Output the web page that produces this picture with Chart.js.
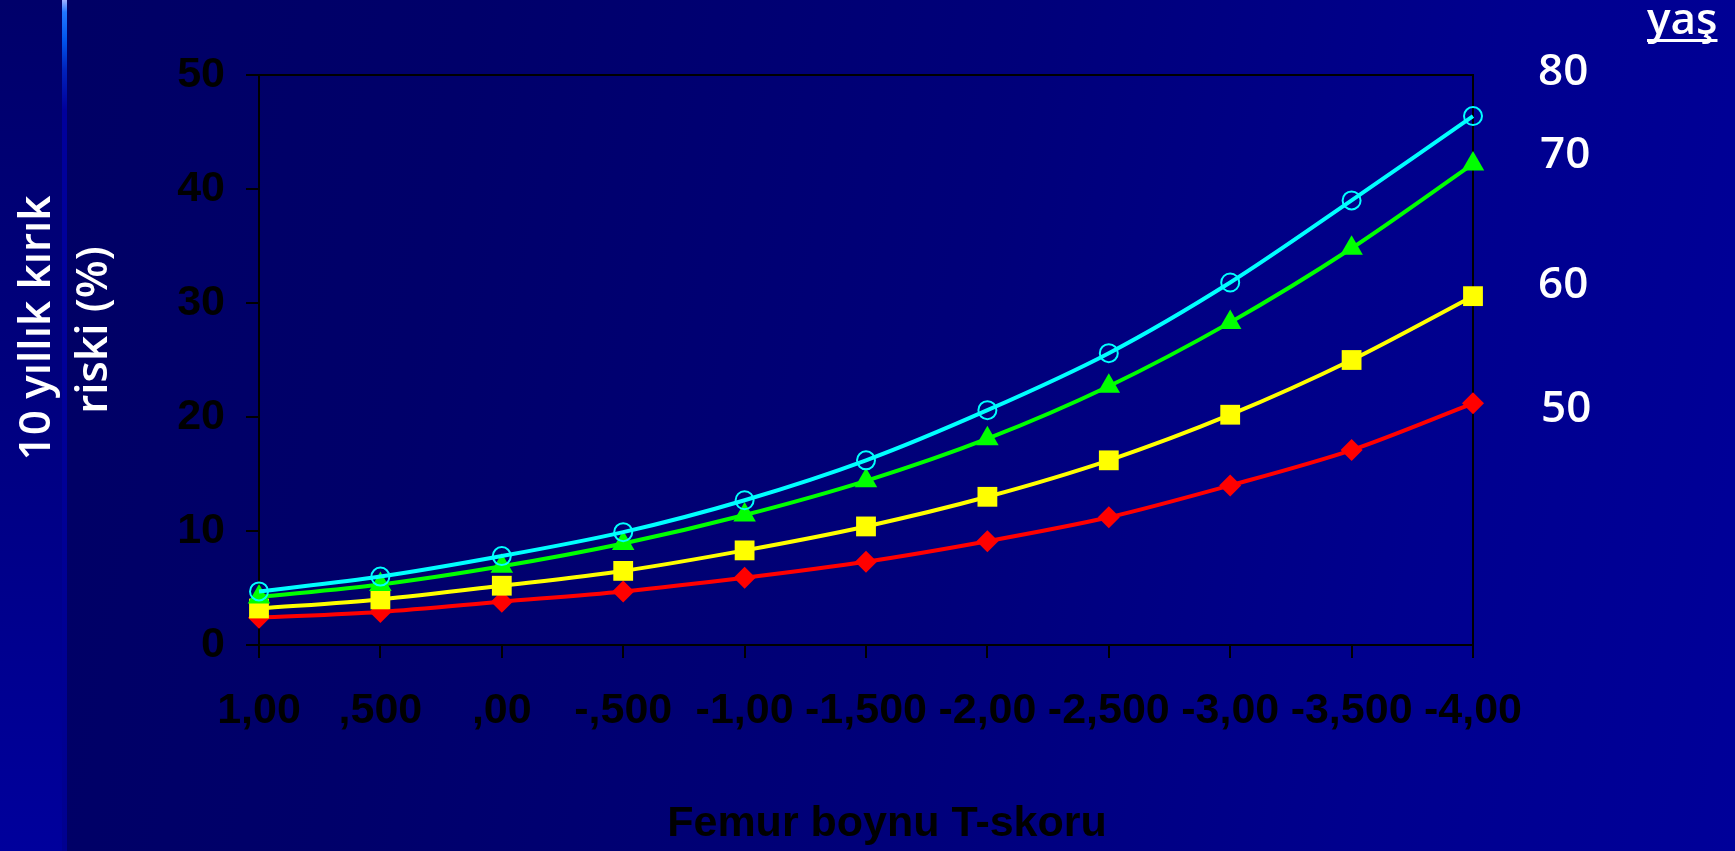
<!DOCTYPE html>
<html>
<head>
<meta charset="utf-8">
<script src="https://cdn.jsdelivr.net/npm/chart.js@4"></script>
<style>
  html, body { margin: 0; padding: 0; }
  #wrap {
    position: relative; width: 1735px; height: 851px; overflow: hidden;
    background: linear-gradient(100deg, #000064 0%, #00006a 25%, #00007a 55%, #00008e 80%, #000099 100%);
  }
  #strip {
    position: absolute; left: 0; top: 0; width: 62px; height: 851px;
    background: linear-gradient(to bottom, #00006a 0%, #00007e 45%, #00009c 100%);
  }
  #rule {
    position: absolute; left: 62px; top: 0; width: 5px; height: 851px;
    background: linear-gradient(to bottom, #a0b0ff 0px, #2277ff 12px, #0055ee 40px, #0022bb 70px, #00009c 110px, #000090 100%);
  }
  #c { position: absolute; left: 0; top: 0; }
</style>
</head>
<body>
<div id="wrap">
  <div id="strip"></div>
  <div id="rule"></div>
  <canvas id="c" width="1735" height="851"></canvas>
</div>
<script>
const tScores = ['1,00', ',500', ',00', '-,500', '-1,00', '-1,500', '-2,00', '-2,500', '-3,00', '-3,500', '-4,00'];
const age80 = [4.7, 6.0, 7.8, 9.9, 12.7, 16.2, 20.6, 25.6, 31.8, 39.0, 46.4];
const age70 = [4.2, 5.3, 6.9, 8.9, 11.4, 14.4, 18.1, 22.7, 28.3, 34.8, 42.2];
const age60 = [3.2, 4.0, 5.2, 6.5, 8.3, 10.4, 13.0, 16.2, 20.2, 25.0, 30.6];
const age50 = [2.4, 2.9, 3.8, 4.7, 5.9, 7.3, 9.1, 11.2, 14.0, 17.1, 21.2];
const ageTags = ['80', '70', '60', '50'];

const AXIS_FONT = { family: 'Liberation Sans, Arial, sans-serif', size: 43, weight: 'bold' };
const LABEL_FONT = "600 44px 'Open Sans', sans-serif";

// frame round the plot + the loose texts (axis titles, age tags)
const decor = {
  id: 'decor',
  beforeDatasetsDraw(chart) {
    const { ctx, chartArea: a } = chart;
    ctx.save();
    ctx.strokeStyle = '#000';
    ctx.lineWidth = 2;
    ctx.strokeRect(a.left, a.top, a.right - a.left, a.bottom - a.top);
    ctx.restore();
  },
  afterDraw(chart) {
    const ctx = chart.ctx;
    ctx.save();
    ctx.fillStyle = '#fff';
    ctx.font = LABEL_FONT;
    ctx.textAlign = 'center';
    ctx.textBaseline = 'middle';
    [['10 yıllık kırık', 37, 328], ['riski (%)', 94, 330]].forEach(([t, x, y]) => {
      ctx.save();
      ctx.translate(x, y);
      ctx.rotate(-Math.PI / 2);
      ctx.fillText(t, 0, 0);
      ctx.restore();
    });

    ctx.fillStyle = '#000';
    ctx.font = 'bold 43px "Liberation Sans", Arial, sans-serif';
    ctx.fillText('Femur boynu T-skoru', 887, 824);

    ctx.fillStyle = '#fff';
    ctx.font = LABEL_FONT;
    ctx.textAlign = 'left';
    ctx.textBaseline = 'alphabetic';
    const w = ctx.measureText('yaş').width;
    ctx.fillText('yaş', 1647, 34);
    ctx.fillRect(1647, 39, w, 3);
    const tagPos = [[1538, 85], [1540, 168], [1538, 298], [1541, 422]];
    ageTags.forEach((t, i) => ctx.fillText(t, tagPos[i][0], tagPos[i][1]));
    ctx.restore();
  }
};

const series = [
  { label: '80', data: age80, color: '#00ffff', style: 'circle', r: 9, fill: 'transparent', bw: 2 },
  { label: '70', data: age70, color: '#00ff00', style: 'triangle', r: 13, fill: '#00ff00', bw: 0 },
  { label: '60', data: age60, color: '#ffff00', style: 'rect', r: 14, fill: '#ffff00', bw: 0 },
  { label: '50', data: age50, color: '#ff0000', style: 'rectRot', r: 11, fill: '#ff0000', bw: 0 },
];

new Chart(document.getElementById('c'), {
  type: 'line',
  data: {
    labels: tScores,
    datasets: series.map(s => ({
      label: s.label,
      data: s.data,
      borderColor: s.color,
      borderWidth: 4,
      tension: 0.3,
      fill: false,
      pointStyle: s.style,
      pointRadius: s.r,
      pointHoverRadius: s.r,
      pointBackgroundColor: s.fill,
      pointBorderColor: s.color,
      pointBorderWidth: s.bw,
    }))
  },
  options: {
    responsive: false,
    animation: false,
    devicePixelRatio: 1,
    layout: { padding: { top: 75, right: 262, left: 0, bottom: 0 } },
    plugins: { legend: { display: false }, tooltip: { enabled: false } },
    scales: {
      x: {
        offset: false,
        afterFit: s => { s.height = 206; },
        grid: { drawOnChartArea: false, drawTicks: true, tickLength: 13, color: '#000', lineWidth: 2 },
        border: { display: true, color: '#000', width: 2 },
        ticks: { color: '#000', font: AXIS_FONT, padding: 27, autoSkip: false, maxRotation: 0, minRotation: 0 }
      },
      y: {
        min: 0, max: 50,
        afterFit: s => { s.width = 259; },
        grid: { drawOnChartArea: false, drawTicks: true, tickLength: 13, color: '#000', lineWidth: 2 },
        border: { display: true, color: '#000', width: 2 },
        ticks: { color: '#000', font: AXIS_FONT, padding: 21, stepSize: 10 }
      }
    }
  },
  plugins: [decor]
});
</script>
</body>
</html>
